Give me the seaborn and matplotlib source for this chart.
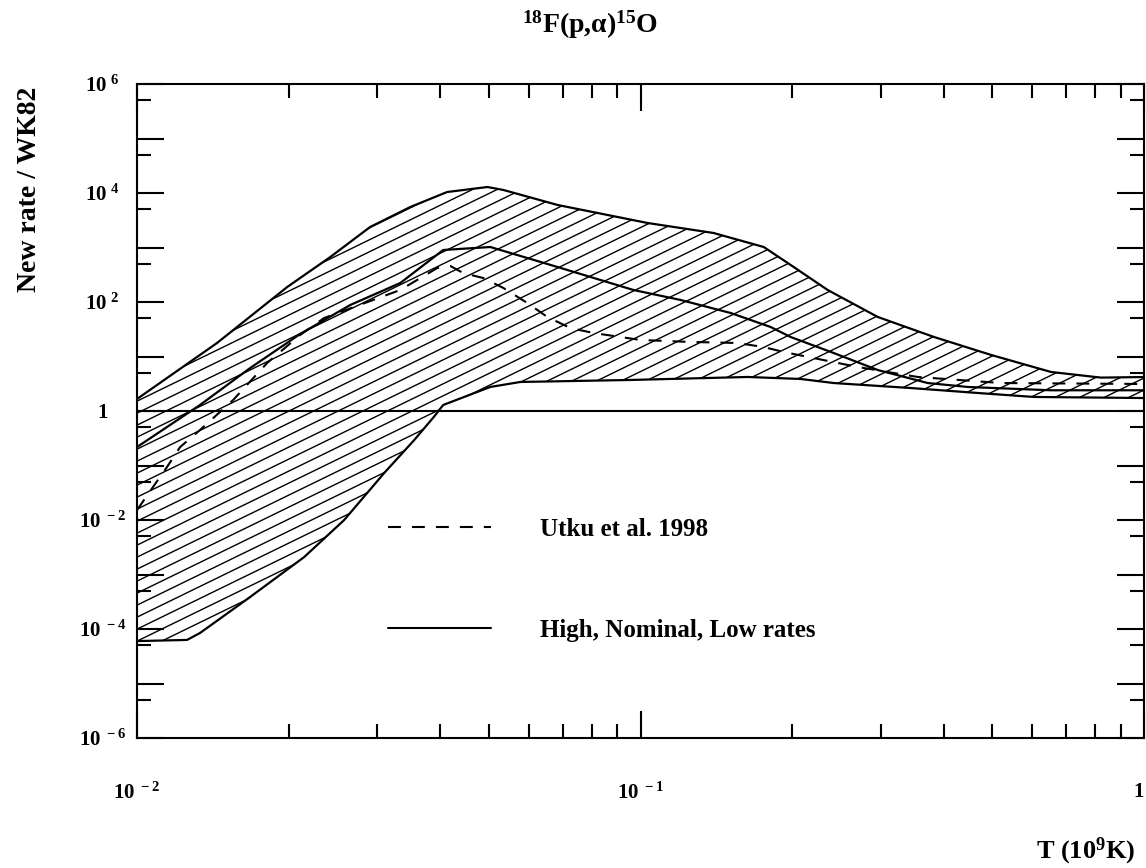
import numpy as np
import matplotlib
matplotlib.use("Agg")
import matplotlib.pyplot as plt
import seaborn as sns
from matplotlib.collections import LineCollection
from matplotlib.lines import Line2D
from matplotlib.ticker import FixedLocator, FuncFormatter, NullFormatter

# Temperature (10^9 K) and rate ratio (new rate / WK82) for each curve
T_high = [0.0100, 0.01442, 0.01987, 0.02421, 0.02904, 0.0349, 0.04130, 0.04966,
          0.05344, 0.06846, 0.1033, 0.1397, 0.1757, 0.1988, 0.2354, 0.2960,
          0.3828, 0.4966, 0.6536, 0.821, 1.0]
R_high = [1.66, 17.7, 188, 670, 2377, 5535, 10430, 12880,
          11350, 6026, 2816, 1845, 1021, 477, 166, 53.1,
          22.8, 10.7, 5.2, 4.1, 4.2]

T_nom = [0.0100, 0.01334, 0.01678, 0.02109, 0.02651, 0.03333, 0.04057, 0.05031,
         0.06840, 0.09685, 0.1201, 0.1510, 0.1813, 0.1987, 0.2419, 0.2959,
         0.3720, 0.4467, 0.6533, 1.0]
R_nom = [0.218, 1.29, 6.15, 25.9, 88, 223, 900, 1021,
         439, 166, 109, 62.9, 34.8, 22.8, 11.6, 5.65,
         3.26, 2.76, 2.4, 2.4]

T_low = [0.0100, 0.01257, 0.01334, 0.01678, 0.02148, 0.02579, 0.03097, 0.03554,
         0.03896, 0.04057, 0.05031, 0.05773, 0.09552, 0.1632, 0.2080, 0.2419,
         0.3441, 0.4677, 0.6043, 1.0]
R_low = [6.0e-5, 6.3e-5, 8.45e-5, 3.87e-4, 2.09e-3, 1.0e-2, 0.0728, 0.294,
         0.80, 1.29, 2.76, 3.41, 3.71, 4.21, 3.87, 3.26,
         2.64, 2.14, 1.81, 1.73]

T_utku = [0.0100, 0.01076, 0.01147, 0.01218, 0.01334, 0.01552, 0.01813, 0.02109,
          0.02353, 0.03333, 0.03948, 0.04190, 0.04446, 0.04874, 0.05340, 0.05960,
          0.06532, 0.07256, 0.08064, 0.1000, 0.1257, 0.1559, 0.1756, 0.1925,
          0.2700, 0.3554, 0.5196, 1.0]
R_utku = [0.0152, 0.0403, 0.0938, 0.218, 0.448, 1.59, 7.6, 24.8,
          50.9, 166, 421, 458, 340, 275, 181, 95.9,
          53.1, 33.3, 27.0, 20.1, 18.5, 17.7, 14.9, 12.1,
          6.42, 4.21, 3.26, 3.13]

legend_labels = ["Utku et al. 1998", "High, Nominal, Low rates"]

sns.set_theme(style="ticks")
plt.rcParams.update({
    "font.family": ["Liberation Serif", "DejaVu Serif"],
    "font.weight": "bold",
    "mathtext.fontset": "custom",
    "mathtext.rm": "Liberation Serif:bold",
    "mathtext.bf": "Liberation Serif:bold",
    "mathtext.it": "Liberation Serif:bold",
    "mathtext.default": "rm",
    "axes.edgecolor": "black",
    "axes.linewidth": 1.5,
    "xtick.color": "black",
    "ytick.color": "black",
    "text.color": "black",
    "figure.facecolor": "white",
    "axes.facecolor": "white",
})

W, H = 1146, 868
fig = plt.figure(figsize=(W / 100, H / 100), dpi=100)
ax_l, ax_r, ax_t, ax_b = 137, 1144, 84, 738
ax = fig.add_axes([ax_l / W, 1 - ax_b / H, (ax_r - ax_l) / W, (ax_b - ax_t) / H])
ax.set_xscale("log")
ax.set_yscale("log")
ax.set_xlim(0.01, 1)
ax.set_ylim(1e-6, 1e6)

# Uncertainty band between the high and low rates
band_x = np.concatenate([T_high, T_low[::-1]])
band_y = np.concatenate([R_high, R_low[::-1]])
band = ax.fill(band_x, band_y, facecolor="none", edgecolor="none")[0]

# Diagonal hatching clipped to the band
ax_w, ax_h = ax_r - ax_l, ax_b - ax_t
slope = np.tan(np.deg2rad(26.0))
step = 12.0
offsets = np.arange(-ax_w * slope - step, ax_h + step, step)
segs = [[(0.0, o / ax_h), (1.0, (o + ax_w * slope) / ax_h)] for o in offsets]
hatch = LineCollection(segs, colors="black", linewidths=1.0,
                       transform=ax.transAxes, zorder=1)
ax.add_collection(hatch)
hatch.set_clip_path(band)

# Reference line at ratio 1
ax.axhline(1.0, color="black", lw=1.5, zorder=2)

for tx, ry in [(T_high, R_high), (T_nom, R_nom), (T_low, R_low)]:
    sns.lineplot(x=tx, y=ry, ax=ax, color="black", lw=1.6, sort=False,
                 estimator=None, zorder=3)
sns.lineplot(x=T_utku, y=R_utku, ax=ax, color="black", lw=1.5, sort=False,
             estimator=None, zorder=3)
ax.lines[-1].set_dashes((6.2, 5.3))

# Ticks
ax.xaxis.set_major_locator(FixedLocator([0.01, 0.1, 1.0]))
ax.xaxis.set_minor_locator(FixedLocator([m * 10.0 ** e for e in (-2, -1) for m in range(2, 10)]))
ax.yaxis.set_major_locator(FixedLocator([10.0 ** e for e in range(-6, 7)]))
ax.yaxis.set_minor_locator(FixedLocator([5 * 10.0 ** e for e in range(-6, 6)]))


def pow_label(v, pos, every=1):
    e = int(round(np.log10(v)))
    if e % every:
        return ""
    if e == 0:
        return "1"
    return r"$10^{\ %d}$" % e


ax.xaxis.set_major_formatter(FuncFormatter(lambda v, p: pow_label(v, p)))
ax.yaxis.set_major_formatter(FuncFormatter(lambda v, p: pow_label(v, p, 2)))
ax.xaxis.set_minor_formatter(NullFormatter())
ax.yaxis.set_minor_formatter(NullFormatter())

ax.tick_params(which="both", direction="in", top=True, right=True, width=1.5,
               labelsize=15)
ax.tick_params(which="major", length=19.5)
ax.tick_params(which="minor", length=10)
ax.tick_params(axis="x", which="major", pad=32)
ax.tick_params(axis="y", which="major", pad=25)
for lbl in ax.get_yticklabels():
    lbl.set_horizontalalignment("center")
# keep the label at the right end of the x axis inside the figure
ax.get_xticklabels()[-1].set_horizontalalignment("right")
ax.grid(False)

# Legend drawn inside the plotting area
handles = [Line2D([], [], color="black", lw=1.5, dashes=(6.2, 5.3)),
           Line2D([], [], color="black", lw=1.5)]
ax.legend(handles, legend_labels, loc="upper left",
          bbox_to_anchor=((388 - ax_l) / ax_w, (ax_b - 518) / ax_h),
          frameon=False, prop={"family": "Liberation Serif", "weight": "bold", "size": 18},
          handlelength=4.1, handletextpad=2.0, labelspacing=3.1,
          borderpad=0, borderaxespad=0)

# Titles and axis labels
fig.text(590 / W, 1 - 25 / H, r"$^{18}$F(p,α)$^{15}$O", ha="center", va="center",
         fontsize=20, fontweight="bold")
fig.text(30 / W, 1 - 189 / H, "New rate / WK82", rotation=90, ha="center",
         va="center", fontsize=20, fontweight="bold")
fig.text(1136 / W, 1 - 851 / H, r"T (10$^{9}$K)", ha="right", va="center",
         fontsize=19, fontweight="bold")

fig.savefig("out.png", dpi=100)
